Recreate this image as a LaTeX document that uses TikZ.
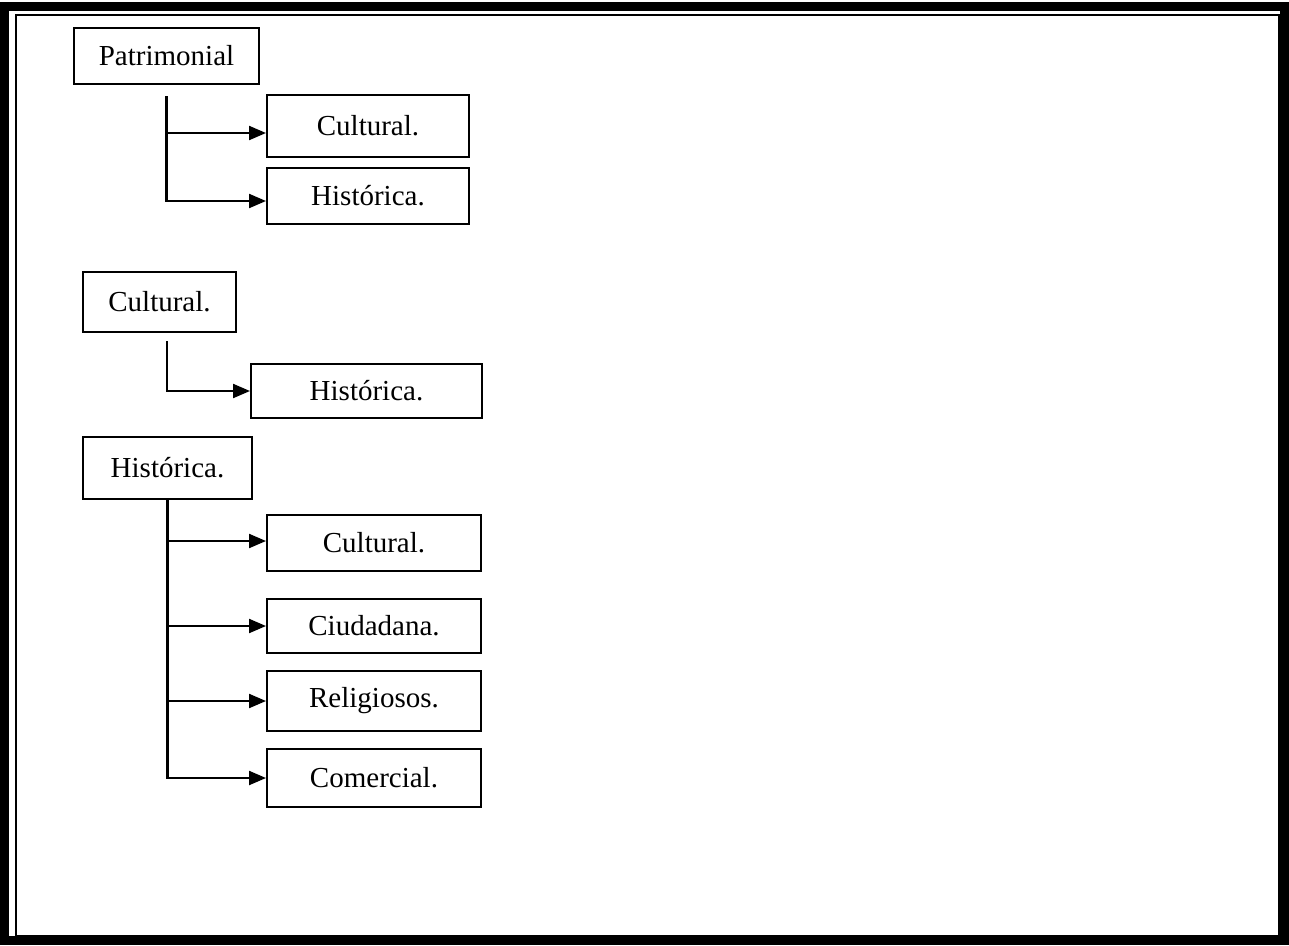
\documentclass[tikz,border=0pt]{standalone}
\usepackage{fontspec}
\setmainfont{Liberation Serif}
\usepackage{tikz}
\usetikzlibrary{arrows.meta,positioning}

\begin{document}
\begin{tikzpicture}[
        x=1pt, y=-1pt,
        box/.style={
                draw=black,
                line width=2pt,
                inner sep=0pt,
                text centered,
                font=\fontsize{29}{34}\selectfont
            },
        conn/.style={
                line width=2.2pt,
                -{Triangle[length=17pt,width=14pt]}
            },
    ]
    \useasboundingbox (0,0) rectangle (1289,945);
    %frame
    \draw[line width=9pt] (4.5,6) rectangle (1284.5,940.5);
    \draw[line width=2.5pt] (16,15) rectangle (1279,936);

    %Patrimonial
    \node[box, minimum width=185pt, minimum height=56pt] (pat1) at (166.5,56) {Patrimonial};
    \node[box, minimum width=202pt, minimum height=62pt] (cult1) at (368,126) {Cultural.};
    \node[box, minimum width=202pt, minimum height=56pt] (hist1) at (368,196) {Histórica.};
    \coordinate (t1) at ([yshift=-11pt]pat1.south);
    \draw[conn] (t1) |- ([yshift=-7pt]cult1.west);
    \draw[conn] (t1) |- ([yshift=-5pt]hist1.west);

    %Cultural
    \node[box, minimum width=153pt, minimum height=60pt] (cult2) at (159.5,302) {Cultural.};
    \node[box, minimum width=231pt, minimum height=54pt] (hist2) at (366.5,391) {Histórica.};
    \coordinate (t2) at ([xshift=7.5pt,yshift=-8pt]cult2.south);
    \draw[conn] (t2) |- (hist2.west);

    %Historica
    \node[box, minimum width=169pt, minimum height=62pt] (hist3) at (167.5,468) {Histórica.};
    \node[box, minimum width=214pt, minimum height=56pt] (cult3) at (374,543) {Cultural.};
    \node[box, minimum width=214pt, minimum height=54pt] (ciud3) at (374,626) {Ciudadana.};
    \node[box, minimum width=214pt, minimum height=60pt] (reli3) at (374,701) {Religiosos.};
    \node[box, minimum width=214pt, minimum height=58pt] (come3) at (374,778) {Comercial.};
    \draw[conn] (hist3.south) |- ([yshift=2pt]cult3.west);
    \draw[conn] (hist3.south) |- (ciud3.west);
    \draw[conn] (hist3.south) |- (reli3.west);
    \draw[conn] (hist3.south) |- (come3.west);
\end{tikzpicture}
\end{document}
